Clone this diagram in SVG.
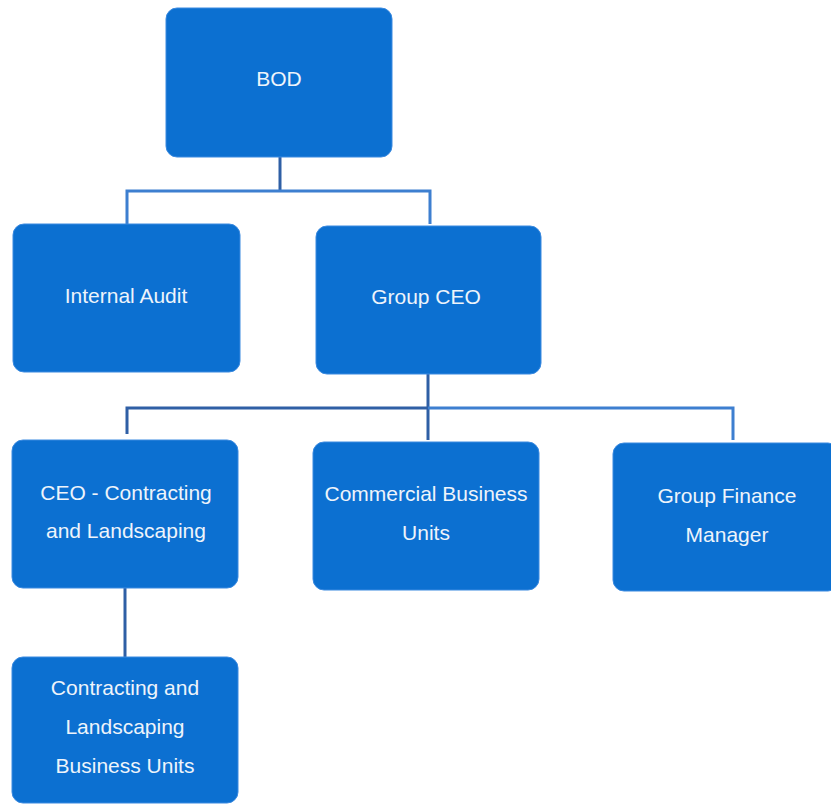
<svg xmlns="http://www.w3.org/2000/svg" width="831" height="804" viewBox="0 0 831 804">
<style>
.box{fill:#0c70d1;stroke:#3b8ae0;stroke-width:1}
.lbl{font-family:"Liberation Sans",Arial,sans-serif;font-size:21px;fill:#eef4fb;text-anchor:middle}
.con{fill:none;stroke:#2f5fa5;stroke-width:3}
.con2{fill:none;stroke:#3d7fd0;stroke-width:3}
</style>
<rect width="831" height="804" fill="#ffffff"/>
<g id="connectors">
<path class="con" d="M280 157 V191"/>
<path class="con2" d="M127 224 V191 H430 V224"/>
<path class="con" d="M428 374 V440"/>
<path class="con" d="M127 434 V408 H428"/>
<path class="con2" d="M428 408 H733 V440"/>
<path class="con" d="M125 588 V657"/>
</g>
<g id="bod"><rect class="box" x="166" y="8" width="226" height="149" rx="11"/><text class="lbl" x="279" y="86">BOD</text></g>
<g id="internal-audit"><rect class="box" x="13" y="224" width="227" height="148" rx="11"/><text class="lbl" x="126" y="303">Internal Audit</text></g>
<g id="group-ceo"><rect class="box" x="316" y="226" width="225" height="148" rx="11"/><text class="lbl" x="426" y="304">Group CEO</text></g>
<g id="ceo-contracting"><rect class="box" x="12" y="440" width="226" height="148" rx="11"/><text class="lbl" x="126" y="500">CEO - Contracting</text><text class="lbl" x="126" y="538">and Landscaping</text></g>
<g id="commercial"><rect class="box" x="313" y="442" width="226" height="148" rx="11"/><text class="lbl" x="426" y="501">Commercial Business</text><text class="lbl" x="426" y="540">Units</text></g>
<g id="finance"><rect class="box" x="613" y="443" width="226" height="148" rx="11"/><text class="lbl" x="727" y="503">Group Finance</text><text class="lbl" x="727" y="542">Manager</text></g>
<g id="contracting-bu"><rect class="box" x="12" y="657" width="226" height="146" rx="11"/><text class="lbl" x="125" y="695">Contracting and</text><text class="lbl" x="125" y="734">Landscaping</text><text class="lbl" x="125" y="773">Business Units</text></g>
</svg>
